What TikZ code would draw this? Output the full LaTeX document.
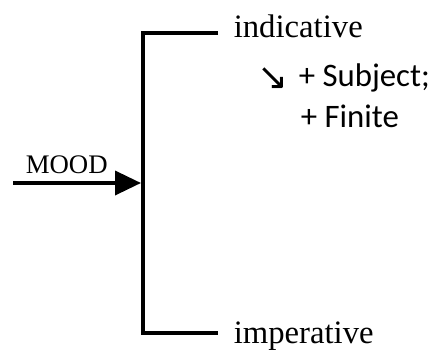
\documentclass[tikz,border=0pt]{standalone}
\usepackage{fontspec}
\setmainfont{Liberation Serif}
\newfontfamily\labelsans{Carlito}
\newfontfamily\arrowsym{DejaVu Sans}
\usetikzlibrary{arrows.meta}

\tikzset{
  termtext/.style={anchor=base west, inner sep=0pt, font=\fontsize{32.7}{36}\selectfont},
  systemtext/.style={anchor=base west, inner sep=0pt, font=\fontsize{26.8}{30}\selectfont},
  realtext/.style={anchor=base west, inner sep=0pt, font=\labelsans\fontsize{32.8}{36}\selectfont},
}

\begin{document}
\begin{tikzpicture}[line width=3.6pt, x=1pt, y=1pt]
  \useasboundingbox (0,0) rectangle (433,354);
  % bracket of the system
  \coordinate (top) at (143,321);
  \coordinate (bot) at (143,21);
  \coordinate (topend) at (218,321);
  \coordinate (botend) at (218,21);
  \coordinate (entry) at (141,171);
  \coordinate (start) at (13,171);
  \draw (topend) -- (top) -- (bot) -- (botend);
  \draw[-{Triangle[length=26pt,width=24pt]}] (start) -- (entry);
  % labels
  \node[systemtext] (mood) at (24,181) {MOOD};
  \node[termtext] (indicative) at (232,316) {indicative};
  \node[termtext] (imperative) at (232,11) {imperative};
  \node[anchor=base west, inner sep=0pt, font=\arrowsym\fontsize{37}{40}\selectfont] (realize) at (256,264) {↘};
  \node[realtext] (subject) at (297,267) {+ Subject;};
  \node[realtext] (finite) at (299,226) {+ Finite};
\end{tikzpicture}
\end{document}
